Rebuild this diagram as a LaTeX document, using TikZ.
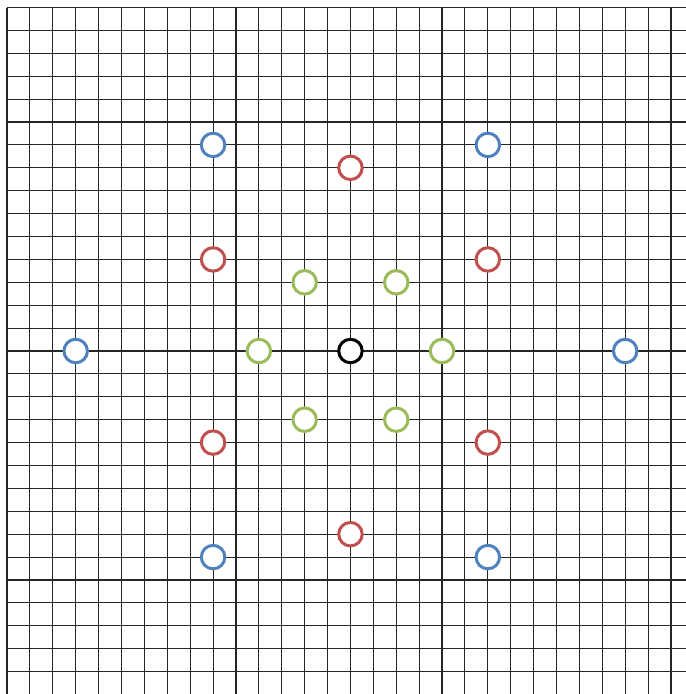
\documentclass[tikz,border=0pt]{standalone}
\usepackage{tikz}
\definecolor{ringblue}{RGB}{79,129,189}
\definecolor{ringred}{RGB}{192,80,77}
\definecolor{ringgreen}{RGB}{155,187,89}

\begin{document}
\begin{tikzpicture}[
  x=22.9pt,y=22.9pt,
  gridline/.style={draw=black!85,line width=1.1pt},
  ring/.style={circle,draw,fill=white,line width=3pt,minimum size=23.5pt,inner sep=0pt},
  cblue/.style={ring,draw=ringblue},
  cred/.style={ring,draw=ringred},
  cgreen/.style={ring,draw=ringgreen},
  cmid/.style={ring,draw=black}
]
\useasboundingbox (-15.306,-14.98) rectangle (14.65,15.33);
\clip (-15.306,-14.98) rectangle (14.65,15.33);
% grid
\draw[gridline,step=1] (-15,-14.98) grid (14.65,15);

% centre
\node[cmid] (o) at (0,0) {};
% inner ring
\node[cgreen] (g1) at (-2,3)  {};
\node[cgreen] (g2) at (2,3)   {};
\node[cgreen] (g3) at (-4,0)  {};
\node[cgreen] (g4) at (4,0)   {};
\node[cgreen] (g5) at (-2,-3) {};
\node[cgreen] (g6) at (2,-3)  {};
% middle ring
\node[cred] (r1) at (0,8)   {};
\node[cred] (r2) at (-6,4)  {};
\node[cred] (r3) at (6,4)   {};
\node[cred] (r4) at (-6,-4) {};
\node[cred] (r5) at (6,-4)  {};
\node[cred] (r6) at (0,-8)  {};
% outer ring
\node[cblue] (b1) at (-6,9)  {};
\node[cblue] (b2) at (6,9)   {};
\node[cblue] (b3) at (-12,0) {};
\node[cblue] (b4) at (12,0)  {};
\node[cblue] (b5) at (-6,-9) {};
\node[cblue] (b6) at (6,-9)  {};
\end{tikzpicture}
\end{document}
